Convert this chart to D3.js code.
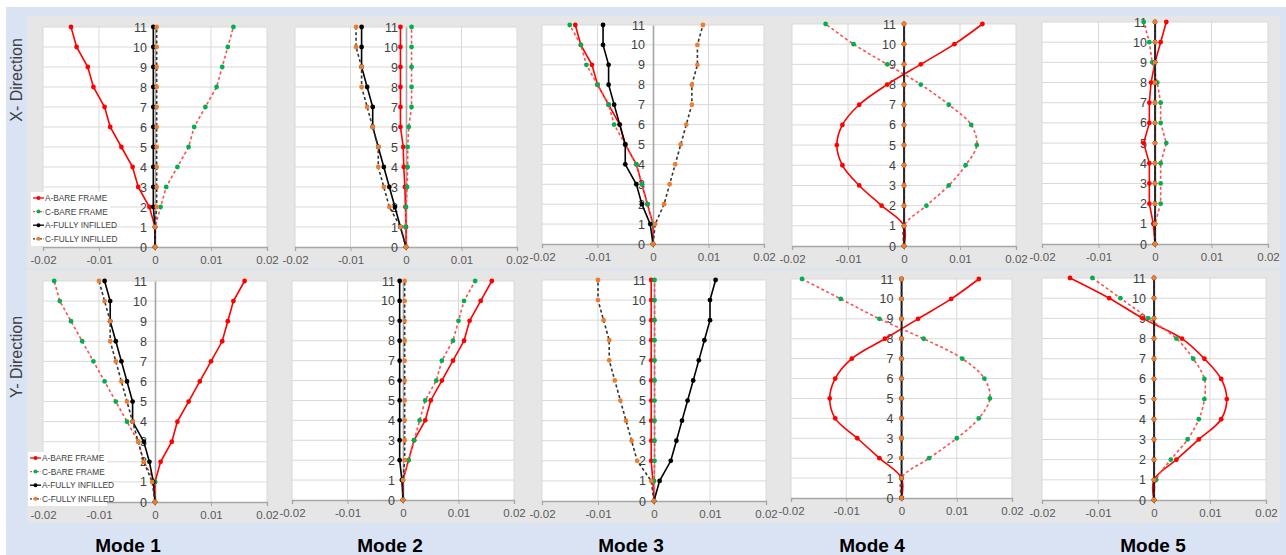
<!DOCTYPE html>
<html>
<head>
<meta charset="utf-8">
<script src="https://cdn.jsdelivr.net/npm/d3@7"></script>
<style>
  html, body { margin: 0; padding: 0; background: #ffffff; }
  svg { display: block; }
  text { font-family: "Liberation Sans", Arial, sans-serif; }
</style>
</head>
<body>
<svg id="chart" width="1286" height="555"></svg>
<script>
// Storey levels (0 = base, 11 = roof)
const storeys = [0, 1, 2, 3, 4, 5, 6, 7, 8, 9, 10, 11];
const xTicks = [-0.02, -0.01, 0, 0.01, 0.02];
const xTickLabels = ["-0.02", "-0.01", "0", "0.01", "0.02"];
const modeNames = ["Mode 1", "Mode 2", "Mode 3", "Mode 4", "Mode 5"];
const directionNames = ["X- Direction", "Y- Direction"];
const seriesNames = ["A-BARE FRAME", "C-BARE FRAME", "A-FULLY INFILLED", "C-FULLY INFILLED"];

// ---- X direction mode shapes ----
const xM1ABare = [0, 0, -0.001, -0.003, -0.004, -0.006, -0.008, -0.009, -0.011, -0.012, -0.014, -0.015];
const xM1CBare = [0, 0, 0.001, 0.002, 0.004, 0.006, 0.007, 0.009, 0.011, 0.012, 0.013, 0.014];
const xM1AInf  = [0, 0, -0.0003, -0.0003, -0.0003, -0.0003, -0.0003, -0.0003, -0.0003, -0.0003, -0.0003, -0.0003];
const xM1CInf  = [0, 0, 0.0003, 0.0003, 0.0003, 0.0003, 0.0003, 0.0003, 0.0003, 0.0003, 0.0003, 0.0003];

const xM2ABare = [0, 0, -0.0001, -0.0002, -0.0004, -0.0005, -0.001, -0.001, -0.001, -0.001, -0.001, -0.001];
const xM2CBare = [0, -0.0001, 0, 0.0002, 0.0003, 0.0003, 0.0005, 0.001, 0.001, 0.001, 0.001, 0.001];
const xM2AInf  = [0, -0.001, -0.002, -0.003, -0.004, -0.005, -0.006, -0.006, -0.007, -0.008, -0.008, -0.008];
const xM2CInf  = [0, -0.001, -0.003, -0.004, -0.005, -0.005, -0.006, -0.007, -0.008, -0.008, -0.009, -0.009];

const xM3ABare = [0, 0, -0.001, -0.002, -0.003, -0.005, -0.006, -0.008, -0.010, -0.011, -0.013, -0.014];
const xM3CBare = [0, 0, -0.001, -0.002, -0.003, -0.005, -0.007, -0.008, -0.010, -0.012, -0.013, -0.015];
const xM3AInf  = [0, -0.0005, -0.002, -0.003, -0.005, -0.005, -0.006, -0.007, -0.008, -0.008, -0.009, -0.009];
const xM3CInf  = [0, 0.0004, 0.002, 0.003, 0.004, 0.005, 0.006, 0.007, 0.007, 0.008, 0.008, 0.009];

const xM4ABare = [0, 0, -0.004, -0.008, -0.011, -0.012, -0.011, -0.008, -0.003, 0.003, 0.009, 0.014];
const xM4CBare = [0, 0, 0.004, 0.008, 0.011, 0.013, 0.012, 0.008, 0.003, -0.003, -0.009, -0.014];
const xM4AInf  = [0, 0, 0, 0, 0, 0, 0, 0, 0, 0, 0, 0];
const xM4CInf  = [0, 0, 0, 0, 0, 0, 0, 0, 0, 0, 0, 0];

const xM5ABare = [0, -0.0003, -0.001, -0.001, -0.001, -0.002, -0.001, -0.001, -0.0007, 0, 0.001, 0.002];
const xM5CBare = [0, 0, 0.001, 0.001, 0.001, 0.002, 0.001, 0.001, 0.0004, -0.0005, -0.001, -0.002];
const xM5AInf  = [0, 0, 0, 0, 0, 0, 0, 0, 0, 0, 0, 0];
const xM5CInf  = [0, 0, 0, 0, 0, 0, 0, 0, 0, 0, 0, 0];

// ---- Y direction mode shapes ----
const yM1ABare = [0, 0, 0.001, 0.003, 0.004, 0.006, 0.008, 0.010, 0.012, 0.013, 0.014, 0.016];
const yM1CBare = [0, 0, -0.002, -0.003, -0.005, -0.007, -0.009, -0.011, -0.013, -0.015, -0.017, -0.018];
const yM1AInf  = [0, -0.0003, -0.001, -0.002, -0.004, -0.004, -0.005, -0.006, -0.007, -0.008, -0.008, -0.009];
const yM1CInf  = [0, -0.0005, -0.002, -0.003, -0.004, -0.005, -0.006, -0.007, -0.008, -0.008, -0.009, -0.010];

const yM2ABare = [0, 0, 0.001, 0.002, 0.004, 0.005, 0.007, 0.009, 0.011, 0.012, 0.014, 0.016];
const yM2CBare = [0, 0, 0.001, 0.002, 0.003, 0.004, 0.006, 0.007, 0.009, 0.010, 0.011, 0.013];
const yM2AInf  = [0, -0.0002, -0.0006, -0.0006, -0.0006, -0.0006, -0.0006, -0.0006, -0.0006, -0.0006, -0.0006, -0.0006];
const yM2CInf  = [0, 0, 0.0003, 0.0003, 0.0003, 0.0003, 0.0003, 0.0003, 0.0003, 0.0003, 0.0003, 0.0003];

const yM3ABare = [0, -0.0002, -0.0005, -0.0005, -0.0005, -0.0005, -0.0005, -0.0005, -0.0005, -0.0005, -0.0005, -0.0005];
const yM3CBare = [0, 0, 0.0001, 0.0001, 0.0001, 0.0001, 0.0001, 0.0001, 0.0001, 0.0001, 0.0001, 0.0001];
const yM3AInf  = [0, 0.001, 0.003, 0.004, 0.005, 0.006, 0.007, 0.008, 0.009, 0.010, 0.010, 0.011];
const yM3CInf  = [0, -0.0005, -0.003, -0.004, -0.005, -0.006, -0.007, -0.008, -0.008, -0.009, -0.010, -0.010];

const yM4ABare = [0, 0, -0.004, -0.008, -0.012, -0.013, -0.012, -0.009, -0.003, 0.003, 0.009, 0.014];
const yM4CBare = [0, 0, 0.005, 0.010, 0.014, 0.016, 0.015, 0.011, 0.004, -0.004, -0.011, -0.018];
const yM4AInf  = [0, 0, 0, 0, 0, 0, 0, 0, 0, 0, 0, 0];
const yM4CInf  = [0, 0, 0, 0, 0, 0, 0, 0, 0, 0, 0, 0];

const yM5ABare = [0, 0, 0.004, 0.008, 0.012, 0.013, 0.012, 0.009, 0.005, -0.002, -0.008, -0.015];
const yM5CBare = [0, 0.0004, 0.003, 0.006, 0.008, 0.009, 0.009, 0.007, 0.004, -0.001, -0.006, -0.011];
const yM5AInf  = [0, 0, 0, 0, 0, 0, 0, 0, 0, 0, 0, 0];
const yM5CInf  = [0, 0, 0, 0, 0, 0, 0, 0, 0, 0, 0, 0];

// Panel table built from the arrays above
const panels = [
  { row: 0, col: 0, smooth: false, legend: true,  s: [xM1ABare, xM1CBare, xM1AInf, xM1CInf] },
  { row: 0, col: 1, smooth: false, legend: false, s: [xM2ABare, xM2CBare, xM2AInf, xM2CInf] },
  { row: 0, col: 2, smooth: false, legend: false, s: [xM3ABare, xM3CBare, xM3AInf, xM3CInf] },
  { row: 0, col: 3, smooth: true,  legend: false, s: [xM4ABare, xM4CBare, xM4AInf, xM4CInf] },
  { row: 0, col: 4, smooth: false, legend: false, s: [xM5ABare, xM5CBare, xM5AInf, xM5CInf] },
  { row: 1, col: 0, smooth: false, legend: true,  s: [yM1ABare, yM1CBare, yM1AInf, yM1CInf] },
  { row: 1, col: 1, smooth: false, legend: false, s: [yM2ABare, yM2CBare, yM2AInf, yM2CInf] },
  { row: 1, col: 2, smooth: false, legend: false, s: [yM3ABare, yM3CBare, yM3AInf, yM3CInf] },
  { row: 1, col: 3, smooth: true,  legend: false, s: [yM4ABare, yM4CBare, yM4AInf, yM4CInf] },
  { row: 1, col: 4, smooth: true,  legend: false, s: [yM5ABare, yM5CBare, yM5AInf, yM5CInf] }
];

// Layout: gray chart frames and white plot areas [left, right, top, bottom]
const frameCols = [[27, 280], [280, 530], [530, 778], [778, 1030], [1030, 1280]];
const frameRows = [[16, 268], [270, 523]];
const plotBoxes = [
  [[43, 267, 27, 247], [295, 517, 27, 247], [542, 764, 25, 244], [792, 1016, 24, 246], [1042, 1268, 22, 244]],
  [[43, 267, 281, 502], [292, 514, 281, 500], [542, 766, 280, 501], [791, 1012, 279, 498], [1042, 1266, 278, 500]]
];
const modeLabelX = [128, 390, 631, 872, 1153];
const directionLabelY = [80, 357];

// Series styling
const seriesStyle = [
  { line: "#ff0000", marker: "#ff0000", dash: null },
  { line: "#ff4d4d", marker: "#00b050", dash: "3,2.5" },
  { line: "#000000", marker: "#000000", dash: null },
  { line: "#333333", marker: "#ed7d31", dash: "3,2.5" }
];

const svg = d3.select("#chart");

// Page background
svg.append("rect").attr("width", 1286).attr("height", 555).attr("fill", "#ffffff");
svg.append("rect").attr("x", 6).attr("y", 7).attr("width", 1280).attr("height", 548).attr("fill", "#dae3f3");

// Gray chart frames
frameRows.forEach(fr => {
  frameCols.forEach(fc => {
    svg.append("rect")
      .attr("x", fc[0]).attr("y", fr[0])
      .attr("width", fc[1] - fc[0]).attr("height", fr[1] - fr[0])
      .attr("fill", "#e6e6e6");
  });
});

// Direction labels
directionNames.forEach((name, r) => {
  svg.append("text")
    .attr("transform", `translate(22,${directionLabelY[r]}) rotate(-90)`)
    .attr("text-anchor", "middle")
    .attr("font-size", 16)
    .attr("fill", "#404040")
    .text(name);
});

// Mode labels along the bottom
modeNames.forEach((name, c) => {
  svg.append("text")
    .attr("x", modeLabelX[c]).attr("y", 552)
    .attr("text-anchor", "middle")
    .attr("font-size", 19)
    .attr("font-weight", "bold")
    .attr("fill", "#000000")
    .text(name);
});

panels.forEach(p => {
  const [left, right, top, bottom] = plotBoxes[p.row][p.col];
  const x = d3.scaleLinear().domain([-0.02, 0.02]).range([left, right]);
  const y = d3.scaleLinear().domain([0, 11]).range([bottom, top]);
  const g = svg.append("g");

  // plot area
  g.append("rect")
    .attr("x", left).attr("y", top)
    .attr("width", right - left).attr("height", bottom - top)
    .attr("fill", "#ffffff");

  // horizontal gridlines
  g.selectAll(".hg").data(storeys.filter(s => s > 0)).enter().append("line")
    .attr("x1", left).attr("x2", right)
    .attr("y1", d => y(d)).attr("y2", d => y(d))
    .attr("stroke", "#d9d9d9").attr("stroke-width", 1);

  // vertical gridlines
  g.selectAll(".vg").data(xTicks.filter(t => t !== 0)).enter().append("line")
    .attr("x1", d => x(d)).attr("x2", d => x(d))
    .attr("y1", top).attr("y2", bottom)
    .attr("stroke", "#d9d9d9").attr("stroke-width", 1);

  // x axis along storey 0
  const xAxis = d3.axisBottom(x).tickValues(xTicks)
    .tickFormat((d, i) => xTickLabels[i]).tickSize(4).tickPadding(5);
  const ax = g.append("g").attr("transform", `translate(0,${y(0)})`).call(xAxis);
  ax.select(".domain").attr("stroke", "#a6a6a6").attr("stroke-width", 1.3);
  ax.selectAll(".tick line").attr("stroke", "#a6a6a6");
  ax.selectAll(".tick text")
    .attr("font-size", 11.5).attr("fill", "#595959")
    .attr("font-family", "'Liberation Sans', Arial, sans-serif");

  // vertical axis at zero displacement
  const yAxis = d3.axisLeft(y).tickValues(storeys).tickFormat(d3.format("d"))
    .tickSize(0).tickPadding(8);
  const ay = g.append("g").attr("transform", `translate(${x(0)},0)`).call(yAxis);
  ay.select(".domain").attr("stroke", "#a6a6a6").attr("stroke-width", 1.6);
  ay.selectAll(".tick text")
    .attr("font-size", 12.5).attr("fill", "#404040")
    .attr("font-family", "'Liberation Sans', Arial, sans-serif");

  // series lines and markers
  p.s.forEach((vals, si) => {
    const st = seriesStyle[si];
    const pts = vals.map((v, i) => [v, storeys[i]]);
    const line = d3.line()
      .x(d => x(d[0])).y(d => y(d[1]))
      .curve(p.smooth ? d3.curveCatmullRom.alpha(0.5) : d3.curveLinear);
    g.append("path")
      .attr("d", line(pts))
      .attr("fill", "none")
      .attr("stroke", st.line)
      .attr("stroke-width", 1.6)
      .attr("stroke-dasharray", st.dash);
    g.selectAll(null).data(pts).enter().append("circle")
      .attr("cx", d => x(d[0])).attr("cy", d => y(d[1]))
      .attr("r", 2.4)
      .attr("fill", st.marker);
  });

  // legend
  if (p.legend) {
    const lx = p.row === 0 ? 31 : 28;
    const ly = p.row === 0 ? 192 : 452;
    const lg = g.append("g").attr("transform", `translate(${lx},${ly})`);
    lg.append("rect").attr("width", 79).attr("height", 54).attr("fill", "#ffffff");
    seriesNames.forEach((name, si) => {
      const st = seriesStyle[si];
      const yy = 6 + si * 13.6;
      lg.append("line")
        .attr("x1", 2).attr("x2", 13).attr("y1", yy).attr("y2", yy)
        .attr("stroke", st.line).attr("stroke-width", 1.3)
        .attr("stroke-dasharray", st.dash ? "2,1.5" : null);
      lg.append("circle").attr("cx", 7.5).attr("cy", yy).attr("r", 2).attr("fill", st.marker);
      lg.append("text")
        .attr("x", 14).attr("y", yy + 3)
        .attr("font-size", 8.3).attr("fill", "#404040")
        .text(name);
    });
  }
});
</script>
</body>
</html>
